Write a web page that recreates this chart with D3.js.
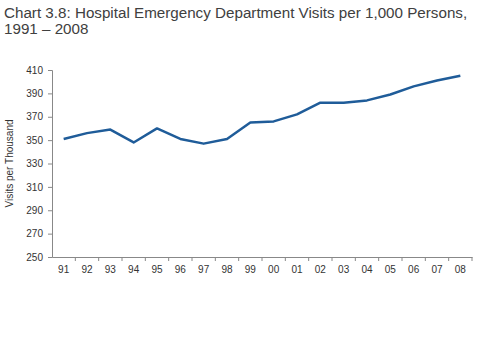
<!DOCTYPE html>
<html>
  <head>
    <style>
      body { margin: 0; background: #fff; }
      svg { display: block; }
    </style>
    <script src="https://d3js.org/d3.v7.min.js"></script>
  </head>
  <body>
    <svg id="chart" width="480" height="360"></svg>
    <script>
      var years = ['91', '92', '93', '94', '95', '96', '97', '98', '99',
        '00', '01', '02', '03', '04', '05', '06', '07', '08'];
      var visits = [351, 356, 359, 348, 360, 351, 347, 351, 365,
        366, 372, 382, 382, 384, 389, 396, 401, 405];
      var yTicks = [250, 270, 290, 310, 330, 350, 370, 390, 410];

      var svg = d3.select('#chart'),
        margin = { top: 70, left: 52, bottom: 103, right: 8 },
        width = +svg.attr('width'),
        height = +svg.attr('height');

      // two-line title, tight leading like the original
      svg.append('text')
        .attr('x', 4).attr('y', 18)
        .attr('fill', '#404040')
        .style('font', '15.2px "Liberation Sans", Arial, sans-serif')
        .selectAll('tspan')
        .data(['Chart 3.8: Hospital Emergency Department Visits per 1,000 Persons,', '1991 – 2008'])
        .enter()
        .append('tspan')
        .attr('x', 4)
        .attr('dy', (d, i) => (i ? 15.5 : 0))
        .text((d) => d);

      var x = d3.scaleBand()
        .domain(years)
        .range([margin.left, width - margin.right]);

      var y = d3.scaleLinear()
        .domain([250, 410])
        .range([height - margin.bottom, margin.top]);

      var xAxis = svg.append('g')
        .attr('transform', `translate(0,${height - margin.bottom})`)
        .call(d3.axisBottom(x).tickSize(0).tickPadding(9));
      // ticks between categories
      xAxis.selectAll('.bound')
        .data(years)
        .enter()
        .append('line')
        .attr('class', 'bound')
        .attr('x1', (d) => x(d) + x.bandwidth())
        .attr('x2', (d) => x(d) + x.bandwidth())
        .attr('y1', 0).attr('y2', 4)
        .attr('stroke', '#888');

      var yAxis = svg.append('g')
        .attr('transform', `translate(${margin.left},0)`)
        .call(d3.axisLeft(y).tickValues(yTicks).tickSize(4).tickPadding(5));

      svg.selectAll('.domain').attr('stroke', '#888');
      svg.selectAll('.tick line').attr('stroke', '#888');
      svg.selectAll('.tick text')
        .attr('fill', '#333')
        .style('font', '10px "Liberation Sans", Arial, sans-serif');

      svg.append('text')
        .attr('transform', `translate(13,${(y(250) + y(410)) / 2}) rotate(-90)`)
        .attr('text-anchor', 'middle')
        .attr('fill', '#333')
        .style('font', '10px "Liberation Sans", Arial, sans-serif')
        .text('Visits per Thousand');

      var line = d3.line()
        .x((d, i) => x(years[i]) + x.bandwidth() / 2)
        .y((d) => y(d));

      svg.append('path')
        .datum(visits)
        .attr('fill', 'none')
        .attr('stroke', '#1f5c99')
        .attr('stroke-width', 2.5)
        .attr('stroke-linejoin', 'round')
        .attr('d', line);
    </script>
  </body>
</html>
